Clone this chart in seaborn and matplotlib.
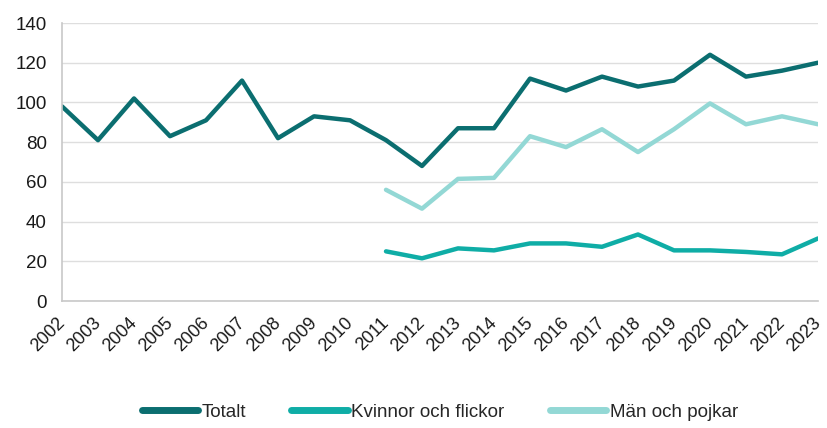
import matplotlib
matplotlib.use("Agg")
import matplotlib.pyplot as plt
import seaborn as sns
import numpy as np
import pandas as pd

years = list(range(2002, 2024))
totalt = [98, 81, 102, 83, 91, 111, 82, 93, 91, 81, 68, 87, 87, 112, 106, 113, 108, 111, 124, 113, 116, 120]
kvinnor = [np.nan]*9 + [25, 21.5, 26.5, 25.5, 29, 29, 27.3, 33.5, 25.5, 25.5, 24.7, 23.5, 31.5]
man = [np.nan]*9 + [56, 46.5, 61.5, 62, 83, 77.5, 86.5, 75, 86.5, 99.5, 89, 93, 89]
series_names = ["Totalt", "Kvinnor och flickor", "Män och pojkar"]
colors = ["#0B6E70", "#0FADA6", "#93D8D5"]
yticks = [0, 20, 40, 60, 80, 100, 120, 140]

df = pd.DataFrame({"year": years * 3,
                   "value": totalt + kvinnor + man,
                   "series": [series_names[0]]*22 + [series_names[1]]*22 + [series_names[2]]*22})

sns.set_theme(style="white")
plt.rcParams['font.family'] = ['Liberation Sans', 'DejaVu Sans']

fig = plt.figure(figsize=(8.28, 4.28), dpi=100)
ax = fig.add_axes([62/828, 1 - 301/428, (818-62)/828, (301-23)/428])

sns.lineplot(data=df, x="year", y="value", hue="series", hue_order=series_names,
             palette=colors, linewidth=3.2, ax=ax, legend=True, sort=False)

ax.set_xlim(2002, 2023)
ax.set_ylim(0, 140)
ax.set_yticks(yticks)
ax.set_yticklabels([str(v) for v in yticks], fontsize=13.5, color="#1a1a1a")
ax.set_xticks(years)
ax.set_xticklabels([str(y) for y in years], rotation=45, ha="right", va="center",
                   rotation_mode="anchor", fontsize=13, color="#1a1a1a")
ax.set_xlabel("")
ax.set_ylabel("")
ax.grid(axis="y", color="#dedede", linewidth=1)
ax.set_axisbelow(True)
for s in ["top", "right"]:
    ax.spines[s].set_visible(False)
for s in ["left", "bottom"]:
    ax.spines[s].set_color("#c8c8c8")
    ax.spines[s].set_linewidth(1.2)
ax.tick_params(axis="both", which="major", direction="out", length=5, width=1.2, color="#c8c8c8", pad=2)
ax.tick_params(axis="x", pad=9)
ax.tick_params(axis="y", pad=6)

leg = ax.legend(loc="center", bbox_to_anchor=(0.5, -0.40), ncol=3, frameon=False,
                fontsize=13.5, handlelength=3.0, handletextpad=0.2, columnspacing=2.4)
for line in leg.get_lines():
    line.set_linewidth(5)
    line.set_solid_capstyle("round")

fig.savefig("out.png", dpi=100)
